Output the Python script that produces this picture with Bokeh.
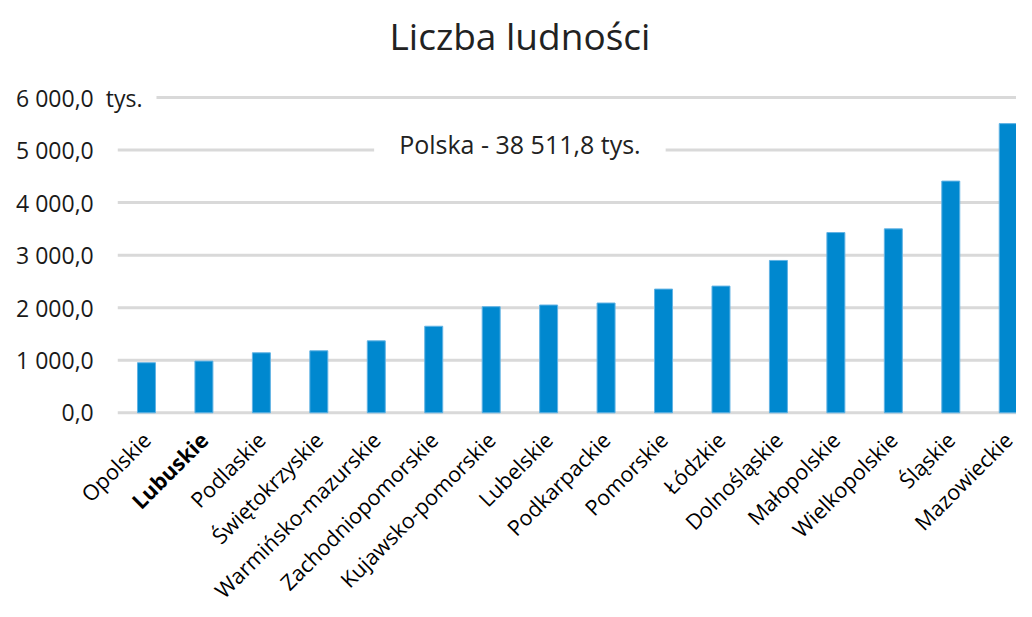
import numpy as np
from bokeh.plotting import figure
from bokeh.models import ColumnDataSource, Label, Range1d
from bokeh.core.properties import value
from bokeh.embed import file_html
from bokeh.resources import INLINE

title_text = "Liczba ludności"
categories = ["Opolskie", "Lubuskie", "Podlaskie", "Świętokrzyskie", "Warmińsko-mazurskie",
              "Zachodniopomorskie", "Kujawsko-pomorskie", "Lubelskie", "Podkarpackie", "Pomorskie",
              "Łódzkie", "Dolnośląskie", "Małopolskie", "Wielkopolskie", "Śląskie", "Mazowieckie"]
values = [953, 984, 1142, 1180, 1369, 1647, 2019, 2051, 2089, 2354, 2411, 2899, 3430, 3500, 4409, 5503]
highlight = "Lubuskie"
y_ticks = [0, 1000, 2000, 3000, 4000, 5000, 6000]
y_tick_labels = ["0,0", "1 000,0", "2 000,0", "3 000,0", "4 000,0", "5 000,0", "6 000,0"]
unit_text = "tys."
total_text = "Polska - 38 511,8 tys."

FONT = "Open Sans"
n = len(categories)
idx = np.arange(n)
src = ColumnDataSource(dict(
    x=idx, top=values, name=categories,
    style=["bold" if c == highlight else "normal" for c in categories],
))

X0, X1 = -2.541, 15.144
p = figure(width=1016, height=601, output_backend="svg", toolbar_location=None,
           x_range=Range1d(X0, X1), y_range=Range1d(-3591, 6609),
           min_border_left=0, min_border_right=0, min_border_top=65, min_border_bottom=0)
p.outline_line_color = None
p.background_fill_color = "white"
p.border_fill_color = "white"
p.xaxis.visible = False
p.yaxis.visible = False
p.xgrid.visible = False
p.ygrid.visible = False

p.title.text = title_text
p.title.text_font = FONT
p.title.text_font_size = "37px"
p.title.text_font_style = "normal"
p.title.text_color = "#222222"
p.title.align = "left"
p.title.offset = 389
p.title.standoff = 10

# grid lines from the y ticks, spanning the plotting area
grid_left = -0.5
gsrc = ColumnDataSource(dict(y=y_ticks, x0=[grid_left] * len(y_ticks), x1=[X1] * len(y_ticks)))
p.segment(x0="x0", x1="x1", y0="y", y1="y", source=gsrc, line_color="#d9d9d9", line_width=3)

p.vbar(x="x", top="top", width=0.313, bottom=0, source=src,
       fill_color="#0088cf", line_color="#62b3e4", line_width=1)

# unit next to top tick label (white box interrupts the top grid line)
p.text(x=[grid_left], y=[y_ticks[-1]], text=[unit_text], x_offset=-26,
       text_align="left", text_baseline="middle", text_font=value(FONT),
       text_font_size="23px", text_color="#1a1a1a",
       background_fill_color="white", padding=14)

# y tick labels
tsrc = ColumnDataSource(dict(y=y_ticks, text=y_tick_labels, x=[grid_left] * len(y_ticks)))
p.text(x="x", y="y", text="text", source=tsrc, x_offset=-24, text_align="right",
       text_baseline="middle", text_font=value(FONT), text_font_size="23px",
       text_color="#1a1a1a")

# rotated category labels
p.text(x="x", y=0, text="name", source=src, angle=np.pi / 4,
       text_align="right", text_baseline="middle", y_offset=23,
       text_font=value(FONT), text_font_size="21.5px", text_color="#000000",
       text_font_style="style")

p.add_layout(Label(x=6.5, y=y_ticks[-2], text=total_text, text_align="center",
                   text_baseline="middle", text_font=FONT, text_font_size="25px",
                   text_color="#222222", y_offset=6,
                   background_fill_color="white", padding=25))

open("out.html", "w").write(file_html(p, INLINE))
